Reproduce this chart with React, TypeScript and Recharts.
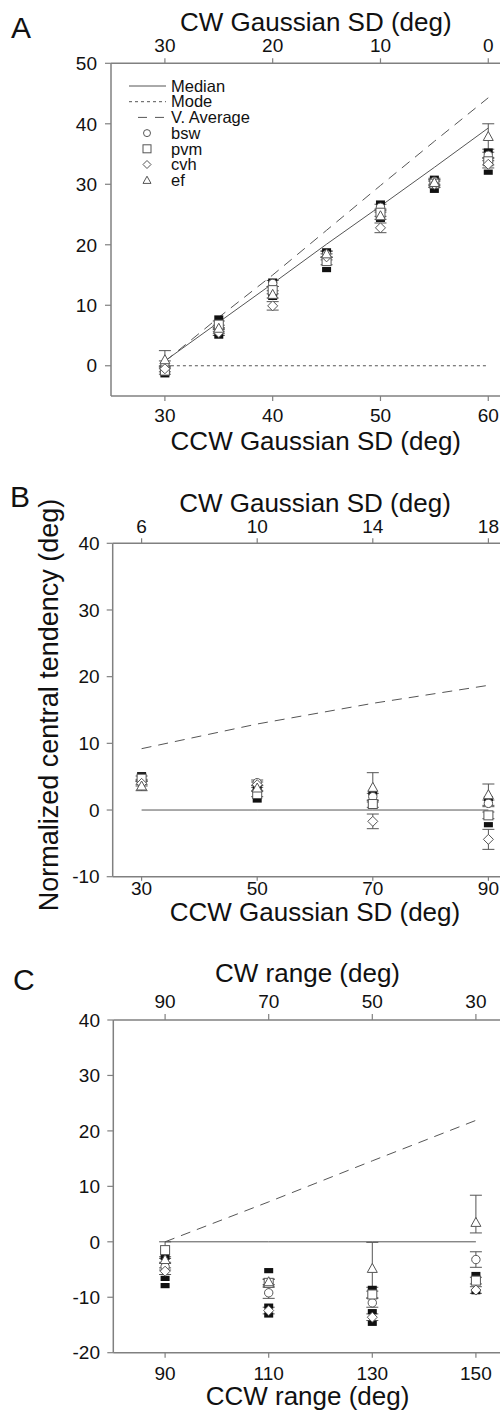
import React from 'react';
import { ComposedChart, Line, Scatter, XAxis, YAxis, ErrorBar, Label, Customized } from 'recharts';

const FONT = '"Liberation Sans", Arial, Helvetica, sans-serif';
const AXIS = '#808080';
const INK = '#555555';
const TXT = '#111111';

type Err = number | [number, number];

// ---------------- Panel A ----------------
const aCCW = [30, 35, 40, 45, 50, 55, 60];
const aCWTicks = [30, 20, 10, 0];
const aCCWTicks = [30, 40, 50, 60];
const aYTicks = [0, 10, 20, 30, 40, 50];
const aMedian = [0.8, 7.2, 13.6, 20.1, 26.4, 32.8, 39.3];
const aMode = [0, 0, 0, 0, 0, 0, 0];
const aVAvg = [0.7, 8.0, 15.0, 22.4, 29.8, 37.1, 44.3];
const aBsw = [0.3, 5.8, 13.6, 18.4, 26.2, 30.5, 34.8];
const aPvm = [-0.8, 6.8, 12.5, 17.3, 25.3, 30.1, 33.8];
const aCvh = [-0.5, 5.5, 9.9, 18.0, 22.8, 30.0, 33.3];
const aEf = [1.0, 6.2, 11.8, 18.5, 24.8, 30.3, 37.9];
const aBswErr: Err[] = [0.5, 0.5, 0.5, 0.5, 0.5, 0.5, 0.5];
const aPvmErr: Err[] = [0.6, 0.6, 0.6, 0.6, 0.6, 0.6, 0.6];
const aCvhErr: Err[] = [0.5, 0.5, 0.7, 0.5, 0.8, 0.5, 0.6];
const aEfErr: Err[] = [1.5, 0.5, 0.6, 0.5, 0.6, 0.5, 2.1];
const aBlackX = [30, 35, 35, 40, 40, 45, 45, 50, 50, 55, 55, 60, 60];
const aBlackY = [-1.5, 7.9, 4.9, 14.0, 11.3, 19.0, 15.9, 26.9, 24.2, 31.0, 29.0, 35.5, 32.0];

// ---------------- Panel B ----------------
const bCCW = [30, 50, 70, 90];
const bCWTicks = [6, 10, 14, 18];
const bCCWTicks = [30, 50, 70, 90];
const bYTicks = [-10, 0, 10, 20, 30, 40];
const bMedian = [0, 0, 0, 0];
const bVAvg = [9.2, 12.9, 16.0, 18.7];
const bBsw = [4.2, 4.1, 2.0, 1.0];
const bPvm = [4.7, 2.4, 0.9, -0.8];
const bCvh = [4.0, 3.8, -1.7, -4.4];
const bEf = [3.6, 3.3, 3.4, 2.3];
const bBswErr: Err[] = [0.4, 0.4, 0.5, 0.5];
const bPvmErr: Err[] = [0.4, 0.4, 0.5, 0.5];
const bCvhErr: Err[] = [0.4, 0.4, 1.1, 1.5];
const bEfErr: Err[] = [0.7, 0.4, 2.2, 1.6];
const bBlackX = [30, 50, 50, 70, 90, 90];
const bBlackY = [5.3, 1.5, 3.4, 2.6, 1.7, -2.2];

// ---------------- Panel C ----------------
const cCCW = [90, 110, 130, 150];
const cCWTicks = [90, 70, 50, 30];
const cCCWTicks = [90, 110, 130, 150];
const cYTicks = [-20, -10, 0, 10, 20, 30, 40];
const cMedian = [0, 0, 0, 0];
const cVAvg = [0, 7.2, 14.6, 21.9];
const cBsw = [-4.5, -9.2, -11.0, -3.2];
const cPvm = [-1.5, -7.4, -9.5, -7.0];
const cCvh = [-5.3, -12.4, -13.6, -8.7];
const cEf = [-3.2, -7.2, -4.8, 3.5];
const cBswErr: Err[] = [0.6, 1.0, 0.8, 1.4];
const cPvmErr: Err[] = [1.5, 0.6, 0.6, 0.6];
const cCvhErr: Err[] = [0.6, 0.6, 0.6, 0.6];
const cEfErr: Err[] = [0.5, 0.5, [3.4, 4.7], [1.9, 4.9]];
const cBlackX = [90, 90, 90, 110, 110, 110, 130, 130, 130, 150, 150];
const cBlackY = [-2.8, -6.6, -7.9, -5.2, -11.6, -13.2, -8.4, -12.6, -14.7, -5.9, -9.0];

// ---------------- Legend ----------------
const legendLineNames = ['Median', 'Mode', 'V. Average'];
const legendSubjectNames = ['bsw', 'pvm', 'cvh', 'ef'];

const toPts = (xs: number[], ys: number[], errs?: Err[]) =>
  xs.map((x, i) => ({ x, y: ys[i], err: errs ? errs[i] : 0 }));

const CircleMark = (cx: number, cy: number, r = 4.2) => (
  <circle cx={cx} cy={cy} r={r} fill="#fff" stroke={INK} strokeWidth={1} />
);
const SquareMark = (cx: number, cy: number, h = 4.5) => (
  <rect x={cx - h} y={cy - h} width={2 * h} height={2 * h} fill="#fff" stroke={INK} strokeWidth={1} />
);
const DiamondMark = (cx: number, cy: number, h = 5) => (
  <polygon points={`${cx},${cy - h} ${cx + h},${cy} ${cx},${cy + h} ${cx - h},${cy}`} fill="#fff" stroke={INK} strokeWidth={1} />
);
const TriangleMark = (cx: number, cy: number, h = 5) => (
  <polygon points={`${cx},${cy - h} ${cx + h},${cy + h * 0.8} ${cx - h},${cy + h * 0.8}`} fill="#fff" stroke={INK} strokeWidth={1} />
);
const markFns = [CircleMark, SquareMark, DiamondMark, TriangleMark];

const mkShape = (fn: (cx: number, cy: number) => React.ReactElement) => (p: any) =>
  p == null || p.cx == null || p.cy == null ? <g /> : fn(p.cx, p.cy);
const BlackShape = (p: any) =>
  p == null || p.cx == null ? <g /> : <rect x={p.cx - 4.5} y={p.cy - 2.6} width={9} height={5.2} fill="#111" />;

function buildSeries(
  xs: number[],
  median: number[],
  mode: number[] | null,
  vavg: number[],
  subjects: { ys: number[]; errs: Err[] }[],
  blackX: number[],
  blackY: number[],
  topTicks: number[]
) {
  const out: React.ReactElement[] = [];
  // invisible series bound to the top (CW) axis so that the axis has data
  out.push(
    <Line key="topanchor" xAxisId="t" data={topTicks.map((t) => ({ x: t, y: 0 }))} dataKey="y"
      stroke="none" dot={false} activeDot={false} isAnimationActive={false} legendType="none" />
  );
  out.push(
    <Line key="median" xAxisId="b" data={toPts(xs, median)} dataKey="y" stroke={INK} strokeWidth={1}
      dot={false} activeDot={false} isAnimationActive={false} />
  );
  if (mode) {
    out.push(
      <Line key="mode" xAxisId="b" data={toPts(xs, mode)} dataKey="y" stroke={INK} strokeWidth={1}
        strokeDasharray="3 3" dot={false} activeDot={false} isAnimationActive={false} />
    );
  }
  out.push(
    <Line key="vavg" xAxisId="b" data={toPts(xs, vavg)} dataKey="y" stroke={INK} strokeWidth={1}
      strokeDasharray="10 7" dot={false} activeDot={false} isAnimationActive={false} />
  );
  out.push(
    <Scatter key="black" xAxisId="b" data={toPts(blackX, blackY)} dataKey="y" shape={BlackShape}
      isAnimationActive={false} />
  );
  subjects.forEach((s, k) => {
    out.push(
      <Scatter key={'s' + k} xAxisId="b" data={toPts(xs, s.ys, s.errs)} dataKey="y"
        shape={mkShape(markFns[k])} isAnimationActive={false}>
        <ErrorBar dataKey="err" direction="y" width={6} stroke={INK} strokeWidth={1} />
      </Scatter>
    );
  });
  return out;
}

const LegendA = () => {
  const y0 = 86;
  const dy = 15.7;
  const dashes = [undefined, '3 3', '9 8'];
  const starts = [129, 129, 138];
  return (
    <g>
      {legendLineNames.map((n, i) => (
        <g key={n}>
          <line x1={starts[i]} x2={166} y1={y0 + i * dy} y2={y0 + i * dy} stroke={INK} strokeWidth={1}
            strokeDasharray={dashes[i]} />
          <text x={171} y={y0 + i * dy} dy="0.35em" fontSize={16.5} fill={TXT}>{n}</text>
        </g>
      ))}
      {legendSubjectNames.map((n, i) => {
        const y = y0 + (i + 3) * dy;
        const m = i === 0 ? CircleMark(147, y, 3.5) : i === 1 ? SquareMark(147, y, 4) : i === 2 ? DiamondMark(147, y, 4) : TriangleMark(147, y, 4);
        return (
          <g key={n}>
            {m}
            <text x={171} y={y} dy="0.35em" fontSize={16.5} fill={TXT}>{n}</text>
          </g>
        );
      })}
    </g>
  );
};

const tickStyle = { fontSize: 19, fill: TXT };
const axisLine = { stroke: AXIS, strokeWidth: 1.5 };
const tickLine = { stroke: AXIS, strokeWidth: 1.2 };

export default function App() {
  return (
    <div style={{ position: 'absolute', left: 0, top: 0, width: 500, height: 1412, overflow: 'hidden', background: '#fff', fontFamily: FONT }}>
      {/* Panel A */}
      <div style={{ position: 'absolute', left: 0, top: 0 }}>
        <ComposedChart width={530} height={470} margin={{ top: 36, right: 9.4, bottom: 16, left: 0 }}>
          <XAxis xAxisId="b" dataKey="x" type="number" domain={[25, 63]} ticks={aCCWTicks} allowDataOverflow
            height={58} tickSize={5} tickMargin={7.5} tick={tickStyle} axisLine={axisLine} tickLine={tickLine}>
            <Label value="CCW Gaussian SD (deg)" position="insideBottom" offset={4} fontSize={26} fill={TXT} />
          </XAxis>
          <XAxis xAxisId="t" dataKey="x" orientation="top" type="number" domain={[-3, 35]} reversed ticks={aCWTicks} allowDataOverflow
            height={27.3} tickSize={5} tickMargin={6} tick={tickStyle} axisLine={axisLine} tickLine={tickLine}>
            <Label value="CW Gaussian SD (deg)" position="top" offset={5} fontSize={26} fill={TXT} />
          </XAxis>
          <YAxis dataKey="y" type="number" domain={[-5, 50]} ticks={aYTicks} allowDataOverflow width={111}
            tickSize={6} tickMargin={8} tick={tickStyle} axisLine={axisLine} tickLine={tickLine} />
          {buildSeries(aCCW, aMedian, aMode, aVAvg, [
            { ys: aBsw, errs: aBswErr },
            { ys: aPvm, errs: aPvmErr },
            { ys: aCvh, errs: aCvhErr },
            { ys: aEf, errs: aEfErr },
          ], aBlackX, aBlackY, aCWTicks)}
          <Customized component={LegendA} />
          <Customized component={() => <text x={11} y={38.3} fontSize={30} fill={TXT}>A</text>} />
        </ComposedChart>
      </div>

      {/* Panel B */}
      <div style={{ position: 'absolute', left: 0, top: 470 }}>
        <ComposedChart width={530} height={470} margin={{ top: 46.7, right: 12.7, bottom: 15.3, left: 0 }}>
          <XAxis xAxisId="b" dataKey="x" type="number" domain={[25, 95]} ticks={bCCWTicks} allowDataOverflow
            height={48} tickSize={4} tickMargin={1} tick={tickStyle} axisLine={axisLine} tickLine={tickLine}>
            <Label value="CCW Gaussian SD (deg)" position="insideBottom" offset={4} fontSize={26} fill={TXT} />
          </XAxis>
          <XAxis xAxisId="t" dataKey="x" orientation="top" type="number" domain={[5, 19]} ticks={bCWTicks} allowDataOverflow
            height={26.6} tickSize={5} tickMargin={5} tick={tickStyle} axisLine={axisLine} tickLine={tickLine}>
            <Label value="CW Gaussian SD (deg)" position="top" offset={5} fontSize={26} fill={TXT} />
          </XAxis>
          <YAxis dataKey="y" type="number" domain={[-10, 40]} ticks={bYTicks} allowDataOverflow width={112.7}
            tickSize={6} tickMargin={7} tick={tickStyle} axisLine={axisLine} tickLine={tickLine} />
          {buildSeries(bCCW, bMedian, null, bVAvg, [
            { ys: bBsw, errs: bBswErr },
            { ys: bPvm, errs: bPvmErr },
            { ys: bCvh, errs: bCvhErr },
            { ys: bEf, errs: bEfErr },
          ], bBlackX, bBlackY, bCWTicks)}
          <Customized component={() => (
            <text x={58} y={235} transform="rotate(-90 58 235)" textAnchor="middle" fontSize={27} fill={TXT}>
              Normalized central tendency (deg)
            </text>
          )} />
          <Customized component={() => <text x={10} y={37.3} fontSize={30} fill={TXT}>B</text>} />
        </ComposedChart>
      </div>

      {/* Panel C */}
      <div style={{ position: 'absolute', left: 0, top: 940 }}>
        <ComposedChart width={530} height={472} margin={{ top: 46.7, right: 28.2, bottom: 3.3, left: 0 }}>
          <XAxis xAxisId="b" dataKey="x" type="number" domain={[80, 155]} ticks={cCCWTicks} allowDataOverflow
            height={56} tickSize={5} tickMargin={8.5} tick={tickStyle} axisLine={axisLine} tickLine={tickLine}>
            <Label value="CCW range (deg)" position="insideBottom" offset={3.7} fontSize={26} fill={TXT} />
          </XAxis>
          <XAxis xAxisId="t" dataKey="x" orientation="top" type="number" domain={[25, 100]} reversed ticks={cCWTicks} allowDataOverflow
            height={33.3} tickSize={6} tickMargin={5.7} tick={tickStyle} axisLine={axisLine} tickLine={tickLine}>
            <Label value="CW range (deg)" position="top" offset={5} fontSize={26} fill={TXT} />
          </XAxis>
          <YAxis dataKey="y" type="number" domain={[-20, 40]} ticks={cYTicks} allowDataOverflow width={113.3}
            tickSize={6} tickMargin={7.3} tick={tickStyle} axisLine={axisLine} tickLine={tickLine} />
          {buildSeries(cCCW, cMedian, null, cVAvg, [
            { ys: cBsw, errs: cBswErr },
            { ys: cPvm, errs: cPvmErr },
            { ys: cCvh, errs: cCvhErr },
            { ys: cEf, errs: cEfErr },
          ], cBlackX, cBlackY, cCWTicks)}
          <Customized component={() => <text x={13} y={50} fontSize={30} fill={TXT}>C</text>} />
        </ComposedChart>
      </div>
    </div>
  );
}
